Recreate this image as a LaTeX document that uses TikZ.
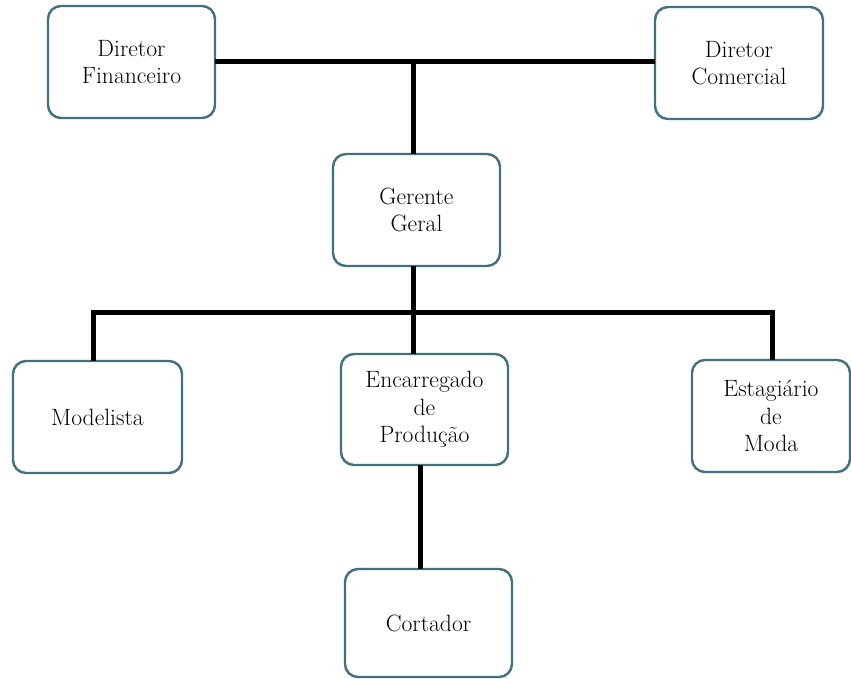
\documentclass[tikz,border=0pt]{standalone}
\usepackage{fontspec}
\begin{document}
\begin{tikzpicture}[x=1pt,y=-1pt,
  orgbox/.style={draw={rgb,255:red,65;green,112;blue,127}, line width=2.4pt,
    rounded corners=13pt, fill=white, inner sep=0pt, outer sep=0pt,
    align=center, font=\rmfamily\fontsize{23.6}{27.5}\selectfont},
  link/.style={line width=5pt}]
\useasboundingbox[fill=white] (0,0) rectangle (851,679);

% boxes
\node[orgbox, minimum width=167pt, minimum height=112pt] (df) at (131.5,62) {Diretor\\Financeiro};
\node[orgbox, minimum width=168pt, minimum height=112pt] (dc) at (739,63) {Diretor\\Comercial};
\node[orgbox, minimum width=167pt, minimum height=112pt] (gg) at (416.5,210) {Gerente\\Geral};
\node[orgbox, minimum width=169pt, minimum height=112pt] (mo) at (97.5,417) {Modelista};
\node[orgbox, minimum width=167pt, minimum height=111pt] (ep) at (424.5,409.5) {Encarregado\\de\\Produção};
\node[orgbox, minimum width=158pt, minimum height=112pt] (em) at (771,416) {Estagiário\\de\\Moda};
\node[orgbox, minimum width=167pt, minimum height=108pt] (co) at (428.5,623) {Cortador};

% junction points of the connectors
\coordinate (t)  at (413,62);
\coordinate (b)  at (413,312);
\coordinate (bl) at (93,312);
\coordinate (br) at (772,312);
\coordinate (cx) at (420,520);

% connectors
\draw[link] (df.east) -- (df.east -| dc.west);
\draw[link] (t) -- (t |- gg.north);
\draw[link] (t |- gg.south) -- (b);
\draw[link] (bl |- mo.north) -- (bl) -- (br) -- (br |- em.north);
\draw[link] (b) -- (b |- ep.north);
\draw[link] (cx |- ep.south) -- (cx |- co.north);
\end{tikzpicture}
\end{document}
